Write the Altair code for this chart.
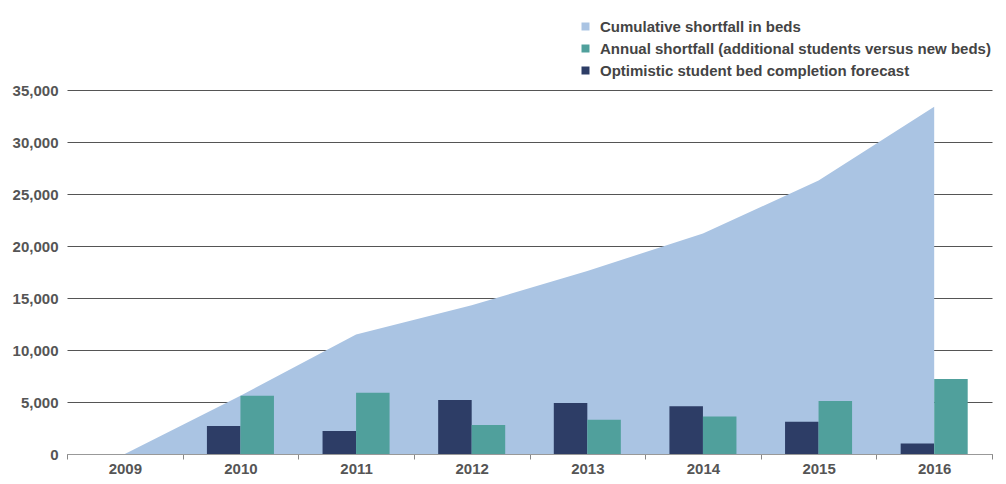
import altair as alt
import pandas as pd

years = ["2009", "2010", "2011", "2012", "2013", "2014", "2015", "2016"]
cumulative = [0, 5600, 11500, 14300, 17600, 21200, 26300, 33400]

bar_years = ["2010", "2011", "2012", "2013", "2014", "2015", "2016"]
annual = [5600, 5900, 2800, 3300, 3600, 5100, 7200]
forecast = [2700, 2200, 5200, 4900, 4600, 3100, 1000]

s_cum = "Cumulative shortfall in beds"
s_ann = "Annual shortfall (additional students versus new beds)"
s_fc = "Optimistic student bed completion forecast"
series = [s_cum, s_ann, s_fc]
colors = ["#aac4e3", "#50a09c", "#2d3d66"]

area_df = pd.DataFrame({"year": years, "value": cumulative, "series": s_cum})
bar_df = pd.concat([
    pd.DataFrame({"year": bar_years, "value": forecast, "series": s_fc}),
    pd.DataFrame({"year": bar_years, "value": annual, "series": s_ann}),
])

font = "Liberation Sans"

x_enc = alt.X(
    "year:N",
    scale=alt.Scale(domain=years, paddingInner=0, paddingOuter=0),
    axis=alt.Axis(
        title=None, labelAngle=0, tickBand="extent", ticks=True, tickSize=5,
        tickColor="#888888", domainColor="#999999", labelPadding=2,
        labelFont=font, labelFontSize=15, labelFontWeight="bold",
        labelColor="#555555", grid=False,
    ),
)
y_enc = alt.Y(
    "value:Q",
    scale=alt.Scale(domain=[0, 35000]),
    axis=alt.Axis(
        title=None, values=[0, 5000, 10000, 15000, 20000, 25000, 30000, 35000],
        format=",d", domain=False, ticks=False, labelPadding=9,
        labelFont=font, labelFontSize=15, labelFontWeight="bold",
        labelColor="#555555", grid=True, gridColor="#555555", gridWidth=1,
    ),
)
color_enc = alt.Color(
    "series:N",
    scale=alt.Scale(domain=series, range=colors),
    legend=alt.Legend(
        title=None, orient="none", legendX=511, legendY=-71,
        symbolType="square", symbolSize=64, symbolStrokeWidth=0,
        symbolOpacity=1, labelOffset=7, rowPadding=6,
        labelFont=font, labelFontSize=15, labelFontWeight="bold",
        labelColor="#444444", labelLimit=500,
    ),
)

area = alt.Chart(area_df).mark_area(opacity=1, interpolate="linear").encode(
    x=x_enc, y=y_enc, color=color_enc
)
bars = alt.Chart(bar_df).mark_bar(opacity=1).encode(
    x=x_enc, y=y_enc, color=color_enc,
    xOffset=alt.XOffset(
        "series:N",
        scale=alt.Scale(domain=[s_fc, s_ann], paddingInner=0, paddingOuter=0.725),
    ),
)

chart = alt.layer(area, bars).properties(
    width=925, height=364,
    autosize=alt.AutoSizeParams(type="none"),
    padding={"left": 59, "top": 82, "right": 6, "bottom": 22},
    background="white",
).configure_view(stroke=None)

chart.save("out.html", embed_options={"renderer": "svg", "actions": False})
